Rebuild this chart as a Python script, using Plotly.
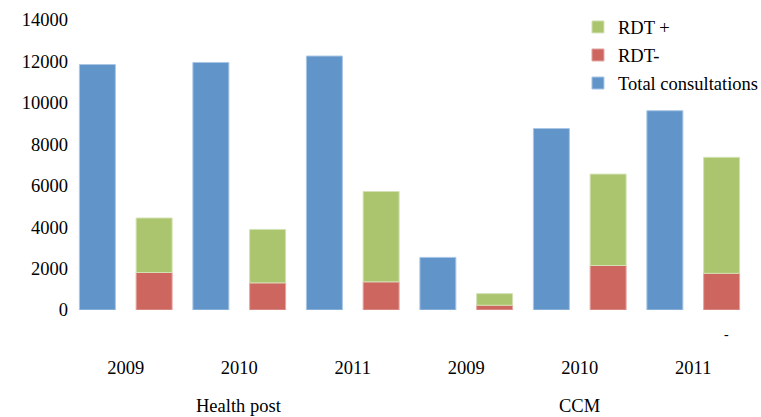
import plotly.graph_objects as go

groups = ["Health post", "Health post", "Health post", "CCM", "CCM", "CCM"]
years = ["2009", "2010", "2011", "2009", "2010", "2011"]
total_consultations = [11850, 11950, 12260, 2540, 8760, 9620]
rdt_neg = [1810, 1310, 1360, 230, 2150, 1770]
rdt_pos = [2630, 2580, 4360, 560, 4410, 5600]
y_ticks = [0, 2000, 4000, 6000, 8000, 10000, 12000, 14000]

cats = [f"{g} {y}" for g, y in zip(groups, years)]

BLUE = "#6194C8"
RED = "#CD665F"
GREEN = "#ABC46E"
FONT = "'Liberation Serif', 'Times New Roman', Times, serif"
FS = 18.5

fig = go.Figure()
fig.add_trace(go.Bar(x=cats, y=total_consultations, name="Total consultations",
                     marker=dict(color=BLUE, line=dict(color="#A9C6E6", width=1)),
                     offsetgroup="total", legendgroup="c", legendrank=3))
fig.add_trace(go.Bar(x=cats, y=rdt_neg, name="RDT-",
                     marker=dict(color=RED, line=dict(color="#E3A6A2", width=1)),
                     offsetgroup="rdt", legendgroup="b", legendrank=2))
fig.add_trace(go.Bar(x=cats, y=rdt_pos, base=rdt_neg, name="RDT +",
                     marker=dict(color=GREEN, line=dict(color="#D3E2B4", width=1)),
                     offsetgroup="rdt", legendgroup="a", legendrank=1))

fig.update_layout(
    width=761, height=417,
    margin=dict(l=69, r=11, t=20, b=106.5, autoexpand=False),
    paper_bgcolor="white", plot_bgcolor="white",
    barmode="group", bargap=0, bargroupgap=0.366,
    font=dict(family=FONT, size=FS, color="#000000"),
    showlegend=True,
    legend=dict(x=0.7595, xref="container", xanchor="left", y=1.04, yanchor="top",
                traceorder="grouped", tracegroupgap=1,
                font=dict(family=FONT, size=FS), bgcolor="rgba(0,0,0,0)",
                borderwidth=0, itemclick=False),
    xaxis=dict(type="category", tickmode="array", tickvals=cats, ticktext=years,
               showline=False, showgrid=False, zeroline=False, ticks="",
               ticklabelstandoff=44, range=[-0.5, 5.5]),
    yaxis=dict(range=[0, 14000], tickvals=y_ticks, showgrid=False,
               zeroline=False, showline=False, ticks="", tickformat="d"),
)

group_names = ["Health post", "CCM"]
for name in group_names:
    idx = [i for i, g in enumerate(groups) if g == name]
    mid = cats[idx[len(idx) // 2]]
    fig.add_annotation(x=mid, xref="x", y=-0.332, yref="paper", text=name,
                       showarrow=False, yanchor="middle",
                       font=dict(family=FONT, size=FS))

fig.add_annotation(x=0.972, xref="paper", y=-0.118, yref="paper", text="-",
                   showarrow=False, font=dict(family=FONT, size=14))

fig.write_html("out.html",
               config={"displayModeBar": False},
               post_script="document.body.style.margin='0px';"
                           "document.body.style.overflow='hidden';")
